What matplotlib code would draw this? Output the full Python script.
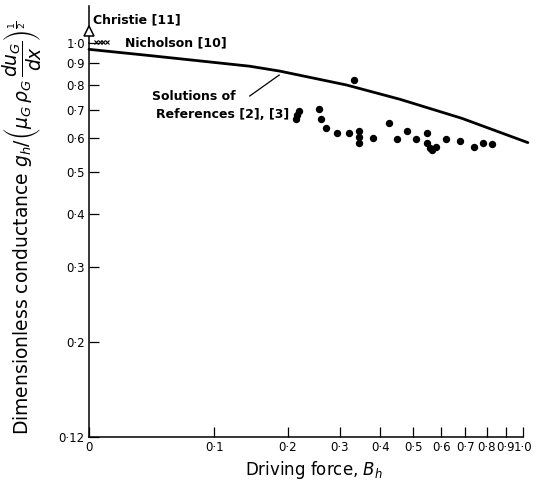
import matplotlib
matplotlib.use("Agg")
import matplotlib.pyplot as plt
import numpy as np
from matplotlib.ticker import FixedLocator, NullLocator


# values (x axis is log of B + 0.1)
curve_b = [0.0, 0.04, 0.143, 0.187, 0.315, 0.457, 0.684, 1.03]
curve_g = [0.968, 0.936, 0.884, 0.861, 0.799, 0.740, 0.668, 0.586]

dots_b = [0.332, 0.213, 0.216, 0.219, 0.256, 0.260, 0.270, 0.293, 0.321,
          0.344, 0.344, 0.344, 0.381, 0.425, 0.449, 0.478, 0.508, 0.546,
          0.546, 0.558, 0.566, 0.579, 0.617, 0.676, 0.740, 0.783, 0.828]
dots_g = [0.821, 0.665, 0.680, 0.695, 0.702, 0.664, 0.634, 0.616, 0.618,
          0.625, 0.605, 0.584, 0.602, 0.652, 0.597, 0.625, 0.597, 0.616,
          0.586, 0.568, 0.563, 0.573, 0.597, 0.590, 0.571, 0.586, 0.581]

nicholson_b = [0.004, 0.006, 0.008, 0.0105]
nicholson_g = [1.005, 1.005, 1.005, 1.005]

christie_b = [0.0]
christie_g = [1.068]

x_ticks = [0.0, 0.1, 0.2, 0.3, 0.4, 0.5, 0.6, 0.7, 0.8, 0.9, 1.0]
x_labels = ["0", "0·1", "0·2", "0·3", "0·4", "0·5", "0·6", "0·7", "0·8", "0·9", "1·0"]
y_ticks = [0.12, 0.2, 0.3, 0.4, 0.5, 0.6, 0.7, 0.8, 0.9, 1.0]
y_labels = ["0·12", "0·2", "0·3", "0·4", "0·5", "0·6", "0·7", "0·8", "0·9", "1·0"]


def fwd(x):
    return np.log10(np.asarray(x, dtype=float) + 0.1)


def inv(y):
    return 10 ** np.asarray(y, dtype=float) - 0.1


fig = plt.figure(figsize=(5.43, 4.84), dpi=100)
ax = fig.add_axes([89 / 543, 1 - 437.3 / 484, 434 / 543, 394 / 484])

ax.set_xscale("function", functions=(fwd, inv))
ax.set_yscale("log")
ax.set_xlim(0, 1.0)
ax.set_ylim(0.12, 1.0)

ax.plot(curve_b, curve_g, color="black", lw=2.0, clip_on=False,
        solid_capstyle="round", solid_joinstyle="round")
ax.plot(dots_b, dots_g, "o", color="black", ms=4.3, clip_on=False)
ax.plot(nicholson_b, nicholson_g, "x", color="black", ms=2.5, mew=0.8, clip_on=False)

# Christie point, off the top with a stem
ax.plot([0, 0], [1.0, 1.22], color="black", lw=1.1, clip_on=False)
ax.plot(christie_b, christie_g, "^", mfc="white", mec="black", ms=7, mew=1.1,
        clip_on=False, zorder=5)

ax.text(0.002, 1.134, "Christie [11]", fontsize=9, fontweight="bold", va="center", ha="left")
ax.text(0.022, 1.003, "Nicholson [10]", fontsize=9, fontweight="bold", va="center", ha="left")
ax.text(0.042, 0.750, "Solutions of", fontsize=9, fontweight="bold", va="center", ha="left")
ax.text(0.045, 0.680, "References [2], [3]", fontsize=9, fontweight="bold", va="center", ha="left")
ax.plot([0.143, 0.186], [0.753, 0.843], color="black", lw=0.9)

for side in ["top", "right"]:
    ax.spines[side].set_visible(False)
for side in ["left", "bottom"]:
    ax.spines[side].set_linewidth(1.1)

ax.xaxis.set_major_locator(FixedLocator(x_ticks))
ax.xaxis.set_minor_locator(NullLocator())
ax.set_xticklabels(x_labels)
ax.yaxis.set_major_locator(FixedLocator(y_ticks))
ax.yaxis.set_minor_locator(NullLocator())
ax.set_yticklabels(y_labels)
ax.tick_params(direction="in", length=7, width=0.9, labelsize=8.5, pad=3)

ax.set_xlabel(r"Driving force, $B_h$", fontsize=12)
ax.xaxis.set_label_coords(0.518, -0.055)

fig.text(22 / 543, 1 - 228 / 484,
         r"Dimensionless conductance $g_h/\left(\mu_G\,\rho_G\,\dfrac{du_G}{dx}\right)^{\frac{1}{2}}$",
         rotation=90, ha="center", va="center", fontsize=13.5)

fig.savefig("out.png", dpi=100)
